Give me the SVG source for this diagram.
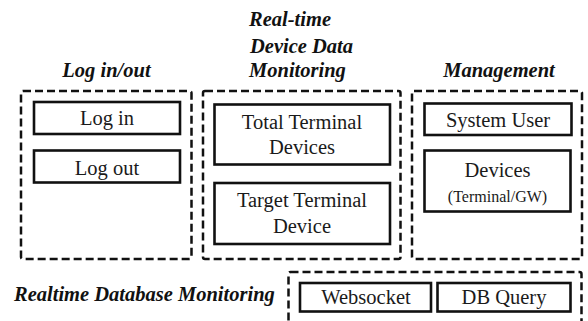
<svg xmlns="http://www.w3.org/2000/svg" width="588" height="321" viewBox="0 0 588 321">
<style>
.grp{fill:none;stroke:#111;stroke-width:2.5;stroke-dasharray:8 4}
.box{fill:#fff;stroke:#111;stroke-width:2.6}
.t{font-family:"Liberation Serif","Times New Roman",serif;font-size:20.5px;fill:#1a1a1a;text-anchor:middle}
.s{font-size:16px}
.h{font-family:"Liberation Serif","Times New Roman",serif;font-size:20.5px;font-weight:bold;font-style:italic;fill:#111}
</style>
<rect width="588" height="321" fill="#fff"/>
<g id="login-group">
<text class="h" x="106.5" y="77" text-anchor="middle">Log in/out</text>
<rect class="grp" x="21" y="91" width="170.5" height="168" rx="2"/>
</g>
<g id="login"><rect class="box" x="34" y="102" width="146" height="32"/><text class="t" x="107" y="125">Log in</text></g>
<g id="logout"><rect class="box" x="34" y="150.5" width="146" height="32"/><text class="t" x="107" y="174.5">Log out</text></g>
<g id="monitor-group">
<text class="h" x="249" y="26">Real-time</text>
<text class="h" x="250" y="52.5">Device Data</text>
<text class="h" x="249" y="77">Monitoring</text>
<rect class="grp" x="203" y="91" width="197.5" height="168" rx="2"/>
</g>
<g id="total"><rect class="box" x="214.5" y="104.5" width="175.5" height="60"/><text class="t" x="302" y="128.5">Total Terminal</text><text class="t" x="302" y="154">Devices</text></g>
<g id="target"><rect class="box" x="214.5" y="183" width="175.5" height="61"/><text class="t" x="302" y="207">Target Terminal</text><text class="t" x="302" y="233">Device</text></g>
<g id="mgmt-group">
<text class="h" x="499" y="77" text-anchor="middle">Management</text>
<rect class="grp" x="412" y="91" width="170" height="168" rx="2"/>
</g>
<g id="sysuser"><rect class="box" x="424.5" y="103.5" width="147" height="31.5"/><text class="t" x="498" y="126.5">System User</text></g>
<g id="devices"><rect class="box" x="424.5" y="150.5" width="146" height="61"/><text class="t" x="497.5" y="177">Devices</text><text class="t s" x="497.5" y="202">(Terminal/GW)</text></g>
<g id="db-group">
<text class="h" x="14" y="301">Realtime Database Monitoring</text>
<rect class="grp" x="288.5" y="272" width="293" height="70" rx="2"/>
</g>
<g id="websocket"><rect class="box" x="300" y="283" width="131" height="28.5"/><text class="t" x="366" y="304">Websocket</text></g>
<g id="dbquery"><rect class="box" x="437.5" y="283" width="133" height="28.5"/><text class="t" x="504" y="304">DB Query</text></g>
<g id="connectors"></g>
</svg>
